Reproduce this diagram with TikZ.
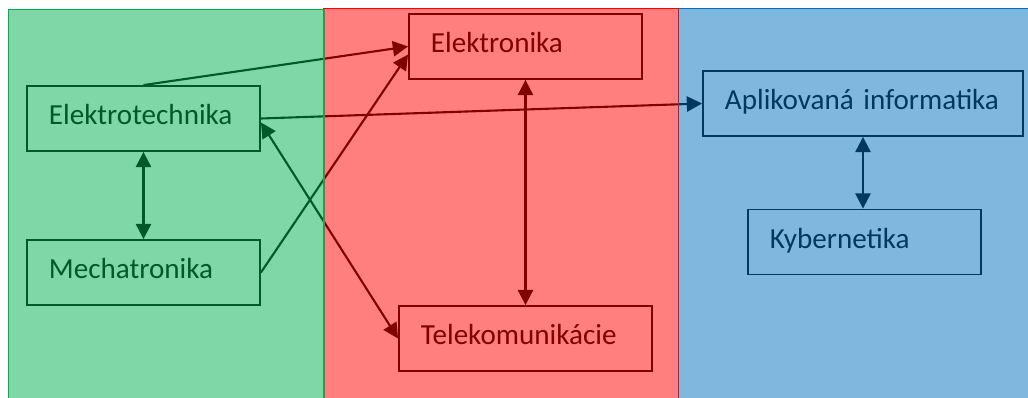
\documentclass[tikz,border=0pt]{standalone}
\usepackage{fontspec}
\setmainfont{Carlito}
\usetikzlibrary{arrows.meta}

\definecolor{zelena}{RGB}{0,176,80}
\definecolor{cervena}{RGB}{255,0,0}
\definecolor{modra}{RGB}{0,112,192}

\begin{document}
\begin{tikzpicture}[x=0.025cm,y=-0.025cm,
    >={Triangle[length=0.38cm,width=0.38cm]},
    odbor/.style={draw,line width=1.3pt,inner xsep=0.55cm,inner ysep=0pt,
      text height=0.975cm,text depth=0.65cm,text width=4.725cm,align=left,
      font=\fontsize{20.7}{24}\selectfont},
    sipka/.style={line width=1.5pt},
    panel/.style={line width=1.3pt,fill opacity=0.5}]
        \useasboundingbox (0,0) rectangle (1028,398);

        % odbory
        \node[odbor] (elt) at (143.5,118.5) {Elektrotechnika};
        \node[odbor] (mech) at (143.5,272.5) {Mechatronika};
        \node[odbor] (eln) at (525.5,46.5) {Elektronika};
        \node[odbor,text width=5.225cm] (tel) at (525.5,338.5) {Telekomunikácie};
        \node[odbor,text width=6.9cm] (apl) at (863,103.5) {Aplikovaná~informatika};
        \node[odbor] (kyb) at (864.5,242) {Kybernetika};

        % vazby
        \draw[sipka,->] (elt.north) -- (eln.west);
        \draw[sipka,->] (elt.east) -- (apl.west);
        \draw[sipka,<->] ([yshift=-0.1cm]elt.east) -- (tel.west);
        \draw[sipka,<->] (elt.south) -- (mech.north);
        \draw[sipka,->] (mech.east) -- ([yshift=-0.2cm]eln.west);
        \draw[sipka,<->] (eln.south) -- (tel.north);
        \draw[sipka,<->] (apl.south) -- (apl.south |- kyb.north);

        % farebne plochy
        \draw[panel,draw=modra,fill=modra] (678.5,8.5) rectangle (1040,410);
        \draw[panel,draw=cervena,fill=cervena] (324,8.5) rectangle (678.5,410);
        \draw[panel,draw=zelena,fill=zelena] (8.5,9.5) rectangle (324,410);
      \end{tikzpicture}
\end{document}
